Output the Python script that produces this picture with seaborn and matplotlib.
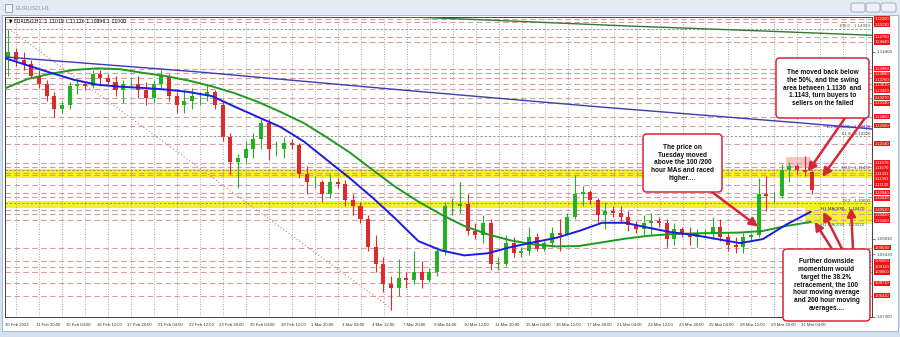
import matplotlib
matplotlib.use("Agg")
import matplotlib.pyplot as plt
from matplotlib.patches import FancyBboxPatch, Rectangle
import numpy as np
import pandas as pd
import seaborn as sns

# ---------------- data ----------------
x_tick_labels = ["10 Feb 2022", "11 Feb 20:00", "15 Feb 04:00", "16 Feb 12:00", "17 Feb 20:00",
                 "21 Feb 04:00", "22 Feb 12:00", "23 Feb 20:00", "25 Feb 04:00", "28 Feb 12:00",
                 "1 Mar 20:00", "3 Mar 04:00", "4 Mar 12:00", "7 Mar 20:00", "9 Mar 04:00",
                 "10 Mar 12:00", "11 Mar 20:00", "15 Mar 04:00", "16 Mar 12:00", "17 Mar 20:00",
                 "21 Mar 04:00", "22 Mar 12:00", "23 Mar 20:00", "25 Mar 04:00", "28 Mar 12:00",
                 "29 Mar 20:00", "31 Mar 04:00"]
x_tick_bars = list(range(0, 833, 32))

price_ticks = [1.07900, 1.08280, 1.08670, 1.09050, 1.09430, 1.09810, 1.10200, 1.10580,
               1.10960, 1.11340, 1.11720, 1.12100, 1.12490, 1.12870, 1.13250, 1.13630,
               1.14010, 1.14400, 1.14780, 1.15160]

BLOCK_BARS = 8
first_open = 1.1425
block_high = [1.1495, 1.1450, 1.1440, 1.1420, 1.1395, 1.1370, 1.1340, 1.1320, 1.1365, 1.1370,
              1.1365, 1.1395, 1.1395, 1.1385, 1.1380, 1.1370, 1.1375, 1.1380, 1.1365, 1.1370,
              1.1395, 1.1385, 1.1340, 1.1345, 1.1350, 1.1340, 1.1360, 1.1345, 1.1320, 1.1240,
              1.1190, 1.1220, 1.1240, 1.1275, 1.1275, 1.1220, 1.1230, 1.1225, 1.1215, 1.1160,
              1.1135, 1.1125, 1.1140, 1.1130, 1.1125, 1.1090, 1.1070, 1.1040, 1.0990, 1.0935,
              1.0890, 1.0930, 1.0900, 1.0950, 1.0925, 1.0910, 1.0960, 1.1070, 1.1080, 1.1120,
              1.1090, 1.1020, 1.1040, 1.1030, 1.0935, 1.0990, 1.0985, 1.0960, 1.1010, 1.0995,
              1.0975, 1.1010, 1.1030, 1.1045, 1.1137, 1.1110, 1.1100, 1.1080, 1.1070, 1.1060,
              1.1060, 1.1050, 1.1025, 1.1040, 1.1045, 1.1035, 1.1030, 1.1020, 1.1010, 1.1010,
              1.1005, 1.1005, 1.1035, 1.1030, 1.0995, 1.0985, 1.0995, 1.0995, 1.1130, 1.1135,
              1.1095, 1.1165, 1.1170, 1.1165, 1.1185, 1.1150]
block_low = [1.1380, 1.1405, 1.1395, 1.1375, 1.1350, 1.1320, 1.1280, 1.1290, 1.1300, 1.1335,
             1.1345, 1.1350, 1.1355, 1.1360, 1.1330, 1.1315, 1.1350, 1.1325, 1.1310, 1.1315,
             1.1350, 1.1320, 1.1290, 1.1290, 1.1300, 1.1310, 1.1320, 1.1300, 1.1220, 1.1140,
             1.1106, 1.1170, 1.1180, 1.1200, 1.1175, 1.1185, 1.1180, 1.1200, 1.1130, 1.1090,
             1.1105, 1.1070, 1.1080, 1.1105, 1.1060, 1.1040, 1.1020, 1.0950, 1.0900, 1.0850,
             1.0806, 1.0840, 1.0860, 1.0870, 1.0860, 1.0875, 1.0890, 1.0940, 1.1040, 1.1045,
             1.0990, 1.0980, 1.0970, 1.0905, 1.0905, 1.0915, 1.0935, 1.0935, 1.0940, 1.0950,
             1.0950, 1.0960, 1.0950, 1.0990, 1.1030, 1.1060, 1.1065, 1.1020, 1.1005, 1.1035,
             1.1020, 1.1000, 1.0995, 1.0990, 1.0990, 1.1010, 1.0960, 1.0965, 1.0985, 1.0965,
             1.0960, 1.0985, 1.0980, 1.0975, 1.0950, 1.0945, 1.0945, 1.0975, 1.0985, 1.1050,
             1.1070, 1.1080, 1.1120, 1.1140, 1.1135, 1.1090]
block_close = [1.1440, 1.1420, 1.1410, 1.1380, 1.1360, 1.1330, 1.1300, 1.1310, 1.1355, 1.1360,
               1.1355, 1.1385, 1.1375, 1.1365, 1.1345, 1.1360, 1.1360, 1.1345, 1.1325, 1.1360,
               1.1380, 1.1330, 1.1310, 1.1320, 1.1330, 1.1330, 1.1340, 1.1310, 1.1230, 1.1170,
               1.1180, 1.1200, 1.1225, 1.1265, 1.1200, 1.1200, 1.1215, 1.1210, 1.1140, 1.1120,
               1.1120, 1.1090, 1.1120, 1.1115, 1.1075, 1.1060, 1.1030, 1.0960, 1.0920, 1.0870,
               1.0860, 1.0885, 1.0880, 1.0900, 1.0880, 1.0900, 1.0950, 1.1060, 1.1060, 1.1065,
               1.1000, 1.0990, 1.1020, 1.0920, 1.0920, 1.0970, 1.0945, 1.0950, 1.0985, 1.0955,
               1.0970, 1.0995, 1.0990, 1.1035, 1.1090, 1.1095, 1.1075, 1.1040, 1.1050, 1.1045,
               1.1035, 1.1015, 1.1005, 1.1020, 1.1025, 1.1020, 1.0980, 1.1005, 1.0995, 1.0985,
               1.0995, 1.0995, 1.1010, 1.0985, 1.0965, 1.0960, 1.0985, 1.0990, 1.1090, 1.1085,
               1.1085, 1.1150, 1.1160, 1.1150, 1.1145, 1.1100]

ma_bars = list(range(0, 817, 24)) + [842]
ma100 = [1.1424, 1.1406, 1.1388, 1.1371, 1.1359, 1.1354, 1.1351, 1.1347, 1.1341, 1.1331,
         1.1305, 1.1280, 1.1255, 1.1220, 1.1175, 1.1130, 1.1082, 1.1030, 1.0975, 1.0952,
         1.0940, 1.0945, 1.0960, 1.0972, 1.0983, 1.1000, 1.1020, 1.1020, 1.1008, 1.0997,
         1.0990, 1.0980, 1.0970, 1.0980, 1.1015, 1.1047]
ma200 = [1.1350, 1.1373, 1.1386, 1.1395, 1.1399, 1.1397, 1.1388, 1.1380, 1.1369, 1.1355,
         1.1338, 1.1317, 1.1292, 1.1265, 1.1230, 1.1193, 1.1150, 1.1108, 1.1072, 1.1040,
         1.1012, 1.0992, 1.0977, 1.0967, 1.0962, 1.0963, 1.0972, 1.0981, 1.0988, 1.0992,
         1.0994, 1.0995, 1.0996, 1.1000, 1.1012, 1.1022]
d1_blue_bars = [0, 203, 414, 623, 832, 907]
d1_blue = [1.1427, 1.1390, 1.1346, 1.1304, 1.1265, 1.1250]
d1_green_bars = [370, 500, 650, 800, 907]
d1_green = [1.1530, 1.1518, 1.1503, 1.1490, 1.1480]

sr_levels = [1.1520, 1.1513, 1.1476, 1.1464, 1.1398, 1.1388, 1.1376, 1.1361, 1.1349, 1.1327,
             1.1314, 1.1280, 1.1258, 1.1214, 1.1167, 1.1157, 1.11431, 1.11363, 1.1113,
             1.1094, 1.1084, 1.1052, 1.1042, 1.1028, 1.0959, 1.0925, 1.0912, 1.0900,
             1.0871, 1.0841]

fib_names = ["100.0", "61.8", "50.0", "38.2"]
fib_levels = [1.14963, 1.12320, 1.11497, 1.10692]
fib_anchor_bars = [4, 406]
fib_anchor_prices = [1.14963, 1.08060]
yellow_bands = [(1.1131, 1.1153), (1.1057, 1.1074)]
swing_zone_bars = (816, 842)
swing_zone_prices = (1.1155, 1.1182)
ma_zone_bars = (836, 907)
ma_zone_prices = (1.1018, 1.1057)

# ---------------- figure ----------------
W, H = 900, 337
sns.set_style("white")
plt.rcParams['font.family'] = ['DejaVu Sans']
SMALL = 'Liberation Sans'
fig = plt.figure(figsize=(W / 100, H / 100), dpi=100)
fig.patch.set_facecolor('#d5e1ef')

def inch(x, y):
    return (x / 100.0, (H - y) / 100.0)

# window chrome (drawn behind the axes)
fig.patches.append(Rectangle(inch(2, 331), 8.96, (331 - 15) / 100, transform=fig.dpi_scale_trans,
                             facecolor='white', edgecolor='#9fb0c6', lw=0.6, zorder=-5))
fig.patches.append(Rectangle(inch(0, 15), 9.0, 0.15, transform=fig.dpi_scale_trans,
                             facecolor='#e3ebf5', edgecolor='none', zorder=-5))
fig.patches.append(Rectangle(inch(5, 12), 0.07, 0.08, transform=fig.dpi_scale_trans,
                             facecolor='#f4f7fb', edgecolor='#6d87aa', lw=0.5, zorder=-4))
fig.text(15 / W, 1 - 8 / H, "EURUSD,H1", fontsize=4.2, color='#8a98ad', va='center', family=SMALL)
for bx, bw in [(851, 14), (866, 14), (881, 15)]:
    fig.patches.append(FancyBboxPatch(inch(bx, 12), bw / 100, 0.09,
                                      boxstyle="round,pad=0,rounding_size=0.02",
                                      transform=fig.dpi_scale_trans, facecolor='#eef2f8',
                                      edgecolor='#8596ad', lw=0.5, zorder=-4))

ax = fig.add_axes([4.5 / W, (H - 316.5) / H, (872 - 4.5) / W, (316.5 - 17) / H])
ax.set_zorder(1)
ax.set_facecolor('white')
ax.set_xlim(-0.5, 906)
ax.set_ylim(1.0790, 1.1525)

# highlight zones
for lo_, hi_ in yellow_bands:
    ax.axhspan(lo_, hi_, color='#f6f22a', zorder=1, lw=0)
ax.add_patch(Rectangle((ma_zone_bars[0], ma_zone_prices[0]), ma_zone_bars[1] - ma_zone_bars[0],
                       ma_zone_prices[1] - ma_zone_prices[0], facecolor='#f6f22a', lw=0, zorder=1))
ax.add_patch(Rectangle((swing_zone_bars[0], swing_zone_prices[0]), swing_zone_bars[1] - swing_zone_bars[0],
                       swing_zone_prices[1] - swing_zone_prices[0], facecolor='#f7c4c4', lw=0, zorder=1))

# vertical day grid
for b in range(12, 907, 24):
    ax.axvline(b, color='#8c8c8c', ls=(0, (1, 2)), lw=0.6, zorder=1.5)

# support / resistance levels
for lvl in sr_levels:
    ax.axhline(lvl, color='#d89c9c', ls=(0, (5, 3)), lw=0.8, zorder=2)

# fib levels
for name, lvl in zip(fib_names, fib_levels):
    ax.axhline(lvl, color='#8a8a8a', ls=(0, (3, 2)), lw=0.6, zorder=2)
    ax.text(904, lvl + 0.00005, f"{name} - {lvl:.5f}", ha='right', va='bottom', fontsize=3.2,
            family=SMALL, color='#4a6a3a' if name == "100.0" else '#444444', zorder=5)
ax.plot(fib_anchor_bars, fib_anchor_prices, color='#d87878', ls=(0, (1, 2)), lw=0.8, zorder=2)

# candles
o = np.array([first_open] + block_close[:-1])
c = np.array(block_close)
hi = np.array(block_high)
lo = np.array(block_low)
centers = np.arange(len(c)) * BLOCK_BARS + BLOCK_BARS / 2 - 0.5
up = c >= o
cols = np.where(up, '#25b025', '#e02a2a')
ax.vlines(centers, lo, hi, colors=cols, lw=0.8, zorder=3)
ax.bar(centers, np.maximum(np.abs(c - o), 0.00008), bottom=np.minimum(o, c), width=4.2,
       color=cols, lw=0, zorder=3.1)

# moving averages via seaborn
ma_df = pd.DataFrame({"bar": ma_bars, "ma100": ma100, "ma200": ma200})
sns.lineplot(data=ma_df, x="bar", y="ma200", color='#1e9a1e', lw=1.4, ax=ax, zorder=4)
sns.lineplot(data=ma_df, x="bar", y="ma100", color='#1c1ce0', lw=1.4, ax=ax, zorder=4.1)
sns.lineplot(x=d1_blue_bars, y=d1_blue, color='#3b3bb5', lw=1.0, ax=ax, zorder=4)
sns.lineplot(x=d1_green_bars, y=d1_green, color='#2f7a2f', lw=1.0, ax=ax, zorder=4)
ax.text(904, d1_blue[-1] + 0.00012, f"D1 MA(200) - {1.12486:.5f}", ha='right', va='bottom',
        fontsize=3.2, family=SMALL, color='#2a2ad0', zorder=5)
ax.text(898, ma100[-1] + 0.0002, f"H1 MA(100) - {ma100[-1]:.5f}", ha='right', va='bottom',
        fontsize=3.2, family=SMALL, color='#1c1ce0', zorder=5)
ax.text(898, ma200[-1] - 0.0002, f"H1 MA(200) - {ma200[-1]:.5f}", ha='right', va='top',
        fontsize=3.2, family=SMALL, color='#1e801e', zorder=5)

ax.set_xlabel("")
ax.set_ylabel("")

# axes styling
for s in ax.spines.values():
    s.set_color('#404040')
    s.set_linewidth(0.7)
ax.set_xticks(x_tick_bars)
ax.set_xticklabels(x_tick_labels, family=SMALL)
for lbl in ax.get_xticklabels():
    lbl.set_horizontalalignment('left')
ax.tick_params(axis='x', length=2.5, width=0.5, pad=2, labelsize=3.1, colors='#333333')

# red level labels, nudged apart so they stay readable
label_pos = []
min_gap = 0.00135
for lvl in sorted(sr_levels, reverse=True):
    y = lvl if not label_pos or label_pos[-1][1] - lvl >= min_gap else label_pos[-1][1] - min_gap
    label_pos.append((lvl, y))
for lvl, y in label_pos:
    ax.text(1.0035, y, f"{lvl:.5f}", transform=ax.get_yaxis_transform(), fontsize=3.0,
            family=SMALL, color='white', va='center', ha='left', clip_on=False, zorder=10,
            bbox=dict(boxstyle='square,pad=0.15', fc='#ee1515', ec='none'))
shown_ticks = [t for t in price_ticks if all(abs(t - y) > 0.0014 for _, y in label_pos)]
ax.yaxis.tick_right()
ax.set_yticks(shown_ticks)
ax.set_yticklabels([f"{v:.5f}" for v in shown_ticks], family=SMALL)
ax.tick_params(axis='y', length=2, width=0.5, pad=1.5, labelsize=3.2, colors='#444444')

ax.text(0.005, 0.995, "\u25bc EURUSD,H1  1.11019 1.11126 1.10996 1.11000", transform=ax.transAxes,
        fontsize=3.3, va='top', ha='left', color='#111111', zorder=6)

# callout boxes
RED = '#d3273a'
boxes = [
    ((776, 58, 93, 60), "The moved back below\nthe 50%, and the swing\narea between 1.1136  and\n1.1143, turn buyers to\nsellers on the failed"),
    ((643, 134, 79, 58), "The price on\nTuesday moved\nabove the 100 /200\nhour MAs and raced\nhigher...."),
    ((783, 249, 87, 72), "Further downside\nmomentum would\ntarget the 38.2%\nretracement, the 100\nhour moving average\nand 200 hour moving\naverages...."),
]
arrows = [
    ((845, 118), (839, 1.11452)),
    ((865, 118), (854, 1.11329)),
    ((712, 192), (787, 1.10104)),
    ((832, 249), (846, 1.10227)),
    ((842, 249), (855, 1.10472)),
    ((853, 249), (884, 1.10570)),
]
for (tx, ty), (bb, pp) in arrows:
    ax.annotate('', xy=(bb, pp), xycoords='data', xytext=(tx, H - ty), textcoords='figure pixels',
                arrowprops=dict(arrowstyle='-|>,head_length=0.5,head_width=0.25', color=RED, lw=1.8,
                                shrinkA=0, shrinkB=0), annotation_clip=False, zorder=7)
for (bx, by, bw, bh), txt in boxes:
    fig.patches.append(FancyBboxPatch(inch(bx, by + bh), bw / 100, bh / 100,
                                      boxstyle="round,pad=0,rounding_size=0.04",
                                      transform=fig.dpi_scale_trans, facecolor='white',
                                      edgecolor=RED, lw=1.1, zorder=8))
    fig.text((bx + bw / 2) / W, 1 - (by + bh / 2) / H, txt, ha='center', va='center',
             multialignment='center', fontsize=4.7, fontweight='bold', family='Liberation Sans',
             linespacing=1.15, color='#111111', zorder=9)

fig.savefig("out.png", dpi=100, facecolor=fig.get_facecolor())
